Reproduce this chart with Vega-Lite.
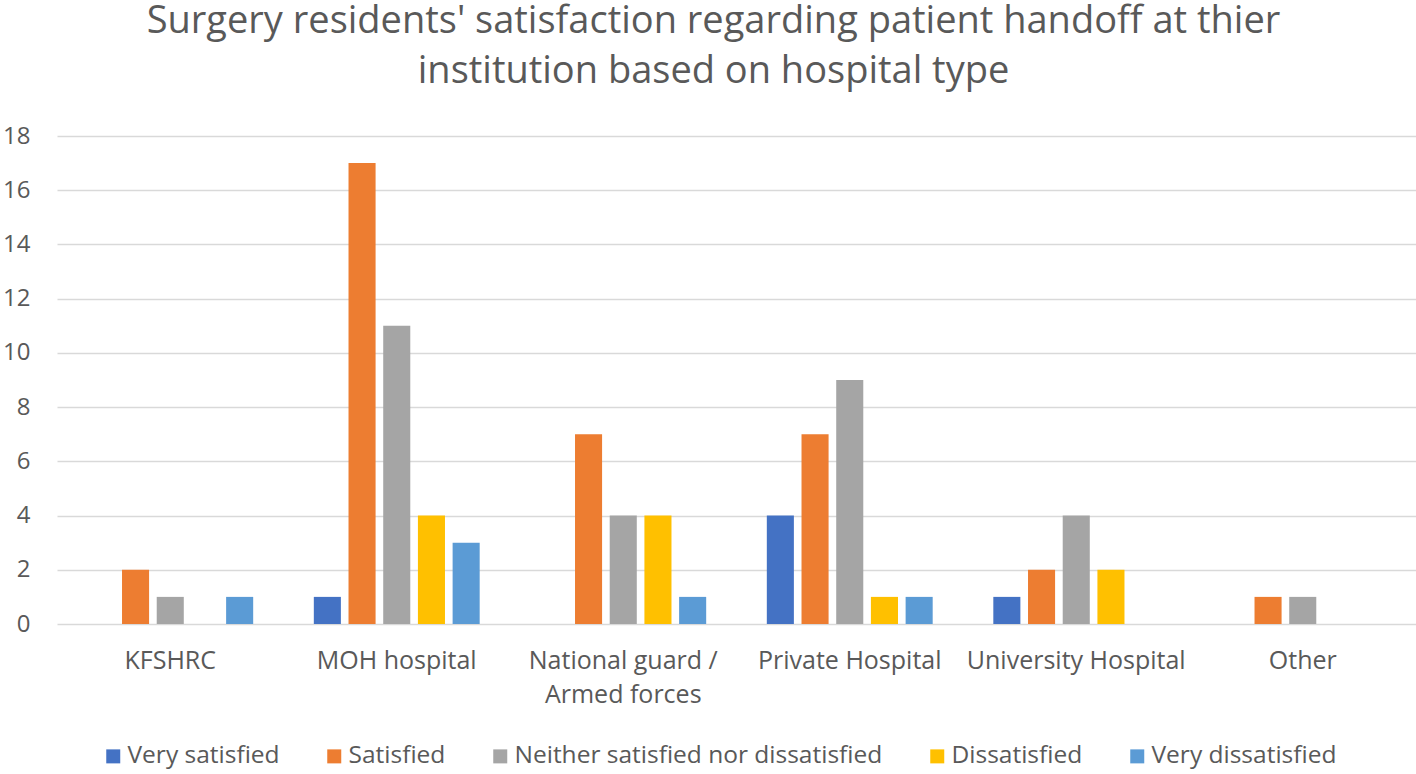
{
  "$schema": "https://vega.github.io/schema/vega-lite/v6.json",
  "width": 1359,
  "height": 488,
  "autosize": {"type": "none"},
  "padding": {"left": 57, "top": 136, "right": 0, "bottom": 150},
  "background": "white",
  "title": {
    "text": ["Surgery residents' satisfaction regarding patient handoff at thier", "institution based on hospital type"],
    "anchor": "middle",
    "frame": "group",
    "dx": -23,
    "font": "Open Sans",
    "fontSize": 38,
    "fontWeight": "normal",
    "color": "#595959",
    "lineHeight": 50,
    "offset": 33
  },
  "config": {
    "view": {"stroke": null},
    "font": "Open Sans"
  },
  "data": {
    "values": [
      {"hospital": "KFSHRC", "response": "Very satisfied", "count": 0},
      {"hospital": "KFSHRC", "response": "Satisfied", "count": 2},
      {"hospital": "KFSHRC", "response": "Neither satisfied nor dissatisfied", "count": 1},
      {"hospital": "KFSHRC", "response": "Dissatisfied", "count": 0},
      {"hospital": "KFSHRC", "response": "Very dissatisfied", "count": 1},
      {"hospital": "MOH hospital", "response": "Very satisfied", "count": 1},
      {"hospital": "MOH hospital", "response": "Satisfied", "count": 17},
      {"hospital": "MOH hospital", "response": "Neither satisfied nor dissatisfied", "count": 11},
      {"hospital": "MOH hospital", "response": "Dissatisfied", "count": 4},
      {"hospital": "MOH hospital", "response": "Very dissatisfied", "count": 3},
      {"hospital": "National guard / Armed forces", "response": "Very satisfied", "count": 0},
      {"hospital": "National guard / Armed forces", "response": "Satisfied", "count": 7},
      {"hospital": "National guard / Armed forces", "response": "Neither satisfied nor dissatisfied", "count": 4},
      {"hospital": "National guard / Armed forces", "response": "Dissatisfied", "count": 4},
      {"hospital": "National guard / Armed forces", "response": "Very dissatisfied", "count": 1},
      {"hospital": "Private Hospital", "response": "Very satisfied", "count": 4},
      {"hospital": "Private Hospital", "response": "Satisfied", "count": 7},
      {"hospital": "Private Hospital", "response": "Neither satisfied nor dissatisfied", "count": 9},
      {"hospital": "Private Hospital", "response": "Dissatisfied", "count": 1},
      {"hospital": "Private Hospital", "response": "Very dissatisfied", "count": 1},
      {"hospital": "University Hospital", "response": "Very satisfied", "count": 1},
      {"hospital": "University Hospital", "response": "Satisfied", "count": 2},
      {"hospital": "University Hospital", "response": "Neither satisfied nor dissatisfied", "count": 4},
      {"hospital": "University Hospital", "response": "Dissatisfied", "count": 2},
      {"hospital": "University Hospital", "response": "Very dissatisfied", "count": 0},
      {"hospital": "Other", "response": "Very satisfied", "count": 0},
      {"hospital": "Other", "response": "Satisfied", "count": 1},
      {"hospital": "Other", "response": "Neither satisfied nor dissatisfied", "count": 1},
      {"hospital": "Other", "response": "Dissatisfied", "count": 0},
      {"hospital": "Other", "response": "Very dissatisfied", "count": 0}
    ]
  },
  "mark": {"type": "bar"},
  "encoding": {
    "x": {
      "field": "hospital",
      "type": "nominal",
      "sort": ["KFSHRC", "MOH hospital", "National guard / Armed forces", "Private Hospital", "University Hospital", "Other"],
      "scale": {"paddingInner": 0.234, "paddingOuter": 0.117},
      "axis": {
        "title": null,
        "labelAngle": 0,
        "domain": false,
        "ticks": false,
        "labelFont": "Open Sans",
        "labelFontSize": 25,
        "labelColor": "#595959",
        "labelPadding": 24,
        "labelLineHeight": 34,
        "labelBaseline": "top",
        "labelLimit": 400,
        "labelExpr": "datum.label == 'National guard / Armed forces' ? ['National guard /', 'Armed forces'] : datum.label"
      }
    },
    "xOffset": {
      "field": "response",
      "type": "nominal",
      "sort": ["Very satisfied", "Satisfied", "Neither satisfied nor dissatisfied", "Dissatisfied", "Very dissatisfied"],
      "scale": {"paddingInner": 0.22, "paddingOuter": 0.11}
    },
    "y": {
      "field": "count",
      "type": "quantitative",
      "scale": {"domain": [0, 18], "nice": false},
      "axis": {
        "title": null,
        "values": [0, 2, 4, 6, 8, 10, 12, 14, 16, 18],
        "domain": false,
        "ticks": false,
        "grid": true,
        "gridColor": "#D9D9D9",
        "gridWidth": 1.5,
        "labelFont": "Open Sans",
        "labelFontSize": 24,
        "labelColor": "#595959",
        "labelPadding": 27
      }
    },
    "color": {
      "field": "response",
      "type": "nominal",
      "scale": {
        "domain": ["Very satisfied", "Satisfied", "Neither satisfied nor dissatisfied", "Dissatisfied", "Very dissatisfied"],
        "range": ["#4472C4", "#ED7D31", "#A5A5A5", "#FFC000", "#5B9BD5"]
      },
      "legend": {
        "title": null,
        "orient": "none",
        "direction": "horizontal",
        "legendX": 44,
        "legendY": 608,
        "symbolType": "square",
        "symbolSize": 196,
        "symbolStrokeWidth": 0,
        "labelFont": "Open Sans",
        "labelFontSize": 24.5,
        "labelColor": "#595959",
        "labelOffset": 2,
        "columnPadding": 42,
        "labelLimit": 500
      }
    }
  }
}
